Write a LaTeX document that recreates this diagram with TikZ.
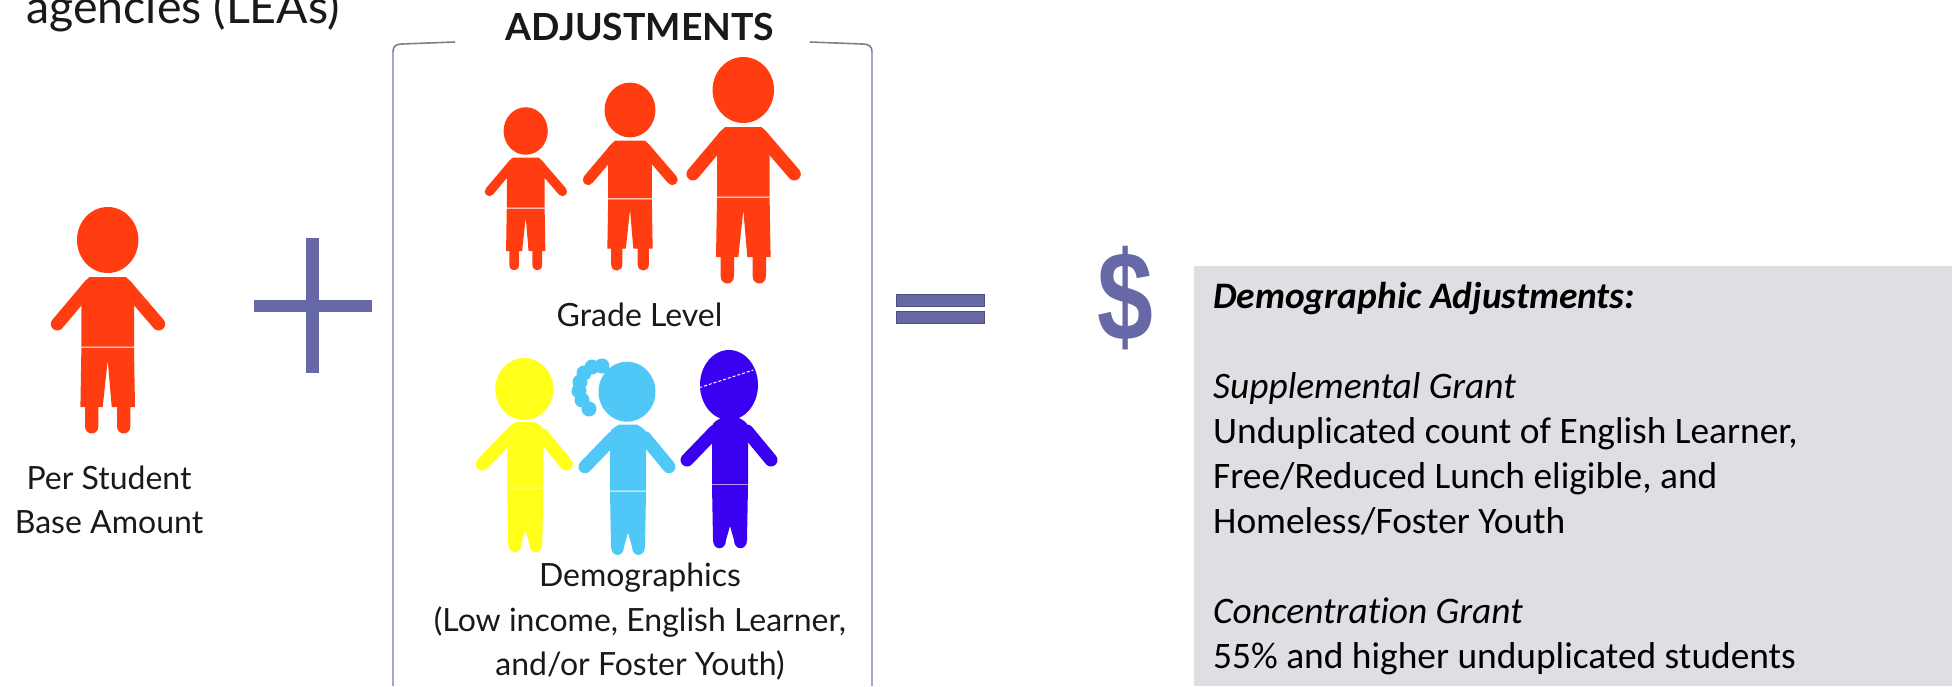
\documentclass[tikz,border=0pt]{standalone}
\usepackage{fontspec}
\setmainfont{Lato}
\newfontfamily\panelfont[Ligatures=NoCommon]{Carlito}
\newfontfamily\signfont{Liberation Sans}
\usetikzlibrary{positioning}
\definecolor{kidred}{HTML}{FF3D10}
\definecolor{kidyellow}{HTML}{FFFF1A}
\definecolor{kidblue}{HTML}{4FC8F8}
\definecolor{kidpurple}{HTML}{3A00F0}
\definecolor{signblue}{HTML}{6669A6}
\definecolor{signedge}{HTML}{4D4F7C}
\definecolor{panelgray}{HTML}{DFDEE3}
\tikzset{
  label/.style={inner sep=0pt,align=center,text=black!90,font=\fontsize{32}{44.5}\selectfont},
  signbar/.style={fill=signblue,draw=signedge,line width=1pt},
  bracket/.style={draw=#1,line width=1.6pt}
}
\newcommand{\kid}[4]{
  \begin{scope}[shift={(#1,#2)},scale=#3,color=#4]
    \fill (0,0) ellipse [x radius=30.7,y radius=33];
    \draw[line width=#3*13pt,line cap=round] (-20,48) -- (-50.4,84) (20,48) -- (51,84);
    \fill (-26.3,106.5) -- (-26.3,52) .. controls (-26.3,44) .. (-18,37) -- (18,37) .. controls (26.3,44) .. (26.3,52) -- (26.3,106.5) -- cycle;
    \fill (-26.3,107.7) -- (26.3,107.7) -- (27.3,167) -- (22.7,167) -- (22.7,186) .. controls (22.7,196) and (9.3,196) .. (9.3,186) -- (9.3,167) -- (4,167) -- (0,120)
	-- (-5,167) -- (-9.3,167) -- (-9.3,186) .. controls (-9.3,196) and (-22.7,196) .. (-22.7,186) -- (-22.7,167) -- (-27.3,167) -- cycle;
  \end{scope}
}
\newcommand{\slimkid}[6]{
  \begin{scope}[shift={(#1,#2)},color=#5]
    \fill (0,0) ellipse [x radius=#3,y radius=#4];
    \draw[line width=13pt,line cap=round] (-14,46) -- (-42,75) (18,46) -- (42,75);
    \fill (-17,99) -- (-17,48) .. controls (-17,38) .. (-8,33) -- (10,33) .. controls (19,38) .. (19,48) -- (19,99) -- cycle;
    \fill (-17,100) -- (19,100) -- (18,155) .. controls (18,166) and (5,166) .. (5,155) -- (1,141) -- (-3,155)
	.. controls (-3,166) and (-16,166) .. (-16,155) -- cycle;
    \draw[#6,line width=1pt] (-17,99.5) -- (19,99.5);
  \end{scope}
}
\begin{document}
\begin{tikzpicture}[x=1pt,y=-1pt]
  \useasboundingbox (0,0) rectangle (1959,686);
  \node[label,anchor=base west,font=\fontsize{46.5}{50}\selectfont] (agencies) at (26,23) {agencies (LEAs)};
  \foreach\kx/\ky/\ks in {107.7/240/1,525.7/131/0.72,630/110/0.83,743.3/90/1} { \kid{\kx}{\ky}{\ks}{kidred} }
  \node[label] (base) at (109,500) {Per Student\\Base Amount};
  \fill[signblue] (254,300) rectangle (372,312);
  \fill[signblue] (306,238) rectangle (319,373);
  \draw[bracket=black!50] (455,42) -- (402,44) .. controls (396,44) and (393,46) .. (393,52);
  \draw[bracket=black!50] (810,42) -- (862,44) .. controls (869,44) and (872,46) .. (872,52);
  \draw[bracket=signblue!60] (393,52) -- (393,686) (872,52) -- (872,686);
  \node[label,anchor=base,font=\bfseries\fontsize{37.4}{40}\selectfont] (adjust) at (640,40) {ADJUSTMENTS};
  \node[label,anchor=base] (grade) at (639.5,326) {Grade Level};
  \slimkid{524.3}{389}{29}{31}{kidyellow}{kidyellow!75!white}
  \foreach\cx/\cy in {602/366,592/367,584/373,580/382,579/391,582/400,589/409} { \fill[kidblue] (\cx,\cy) circle (7.5); }
  \slimkid{627}{391.7}{28.5}{30}{kidblue}{white!60!kidblue}
  \slimkid{729}{385}{29}{35}{kidpurple}{white!60!kidpurple}
  \draw[white,densely dashed,line width=1pt] (699.3,387.7) -- (753.3,370);
  \node[label,anchor=north] (demo) at (640,563) {Demographics\\(Low income, English Learner,\\and/or Foster Youth)};
  \fill[signbar] (896,294) rectangle (984,306);
  \fill[signbar] (896,311) rectangle (984,323);
  \node[inner sep=0pt,text=signblue,xscale=0.79,font=\signfont\bfseries\fontsize{127}{127}\selectfont] (dollar) at (1125,298) {\$};
  \fill[panelgray] (1194,266) rectangle (1952,686);
  \node[inner sep=0pt,anchor=north west,align=left,font=\panelfont\fontsize{37.4}{45}\selectfont] (panel) at (1213,282) {\textbf{\textit{Demographic Adjustments:}}\\[45pt]
	\textit{Supplemental Grant}\\Unduplicated count of English Learner,\\Free/Reduced Lunch eligible, and\\Homeless/Foster Youth\\[45pt]
	\textit{Concentration Grant}\\55\% and higher unduplicated students};
\end{tikzpicture}
\end{document}
